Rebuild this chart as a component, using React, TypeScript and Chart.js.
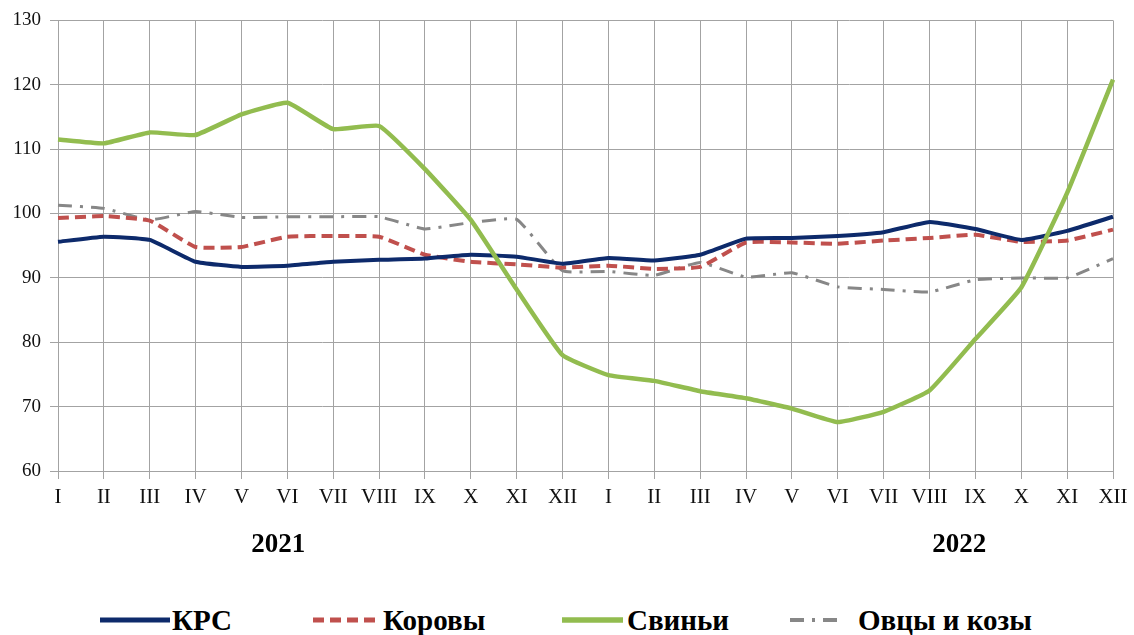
import React, { useEffect, useRef } from "react";
import { Chart, registerables } from "chart.js";

Chart.register(...registerables);

const MONTHS = ["I", "II", "III", "IV", "V", "VI", "VII", "VIII", "IX", "X", "XI", "XII"];
const LABELS = [...MONTHS, ...MONTHS];
const YEARS = ["2021", "2022"];

const KRS = [95.6, 96.4, 95.9, 92.5, 91.7, 91.9, 92.5, 92.8, 93.0, 93.6, 93.3, 92.2,
  93.1, 92.7, 93.6, 96.1, 96.2, 96.5, 97.1, 98.7, 97.6, 95.9, 97.3, 99.5];
const COWS = [99.3, 99.6, 98.9, 94.8, 94.8, 96.4, 96.5, 96.4, 93.6, 92.5, 92.1, 91.6,
  91.9, 91.4, 91.7, 95.5, 95.5, 95.3, 95.8, 96.2, 96.7, 95.6, 95.8, 97.5];
const PIGS = [111.5, 110.9, 112.6, 112.2, 115.4, 117.2, 113.1, 113.6, 106.9, 99.0, 88.2, 78.0,
  74.9, 74.0, 72.4, 71.3, 69.7, 67.6, 69.2, 72.5, 80.5, 88.5, 103.2, 120.8];
const SHEEP = [101.3, 100.8, 99.0, 100.3, 99.4, 99.5, 99.5, 99.5, 97.6, 98.6, 99.1, 91.1,
  91.0, 90.4, 92.4, 90.1, 90.8, 88.6, 88.2, 87.8, 89.7, 90.0, 90.0, 93.0];

const SERIES_NAMES = ["КРС", "Коровы", "Свиньи", "Овцы и козы"];
const COLORS = ["#0d2a6b", "#c0504d", "#92bc4f", "#878787"];
const DASHES: number[][] = [[], [11, 6], [], [14, 8, 3, 8]];
const WIDTHS = [4, 4, 4.5, 3];

const FONT = "'Liberation Serif', 'Times New Roman', serif";

const yearPlugin = {
  id: "yearLabels",
  afterDraw(chart: any) {
    const ctx = chart.ctx;
    const xs = chart.scales.x;
    const pos = [4.8, 19.65];
    ctx.save();
    ctx.font = `bold 27px ${FONT}`;
    ctx.fillStyle = "#000";
    ctx.textAlign = "center";
    ctx.textBaseline = "middle";
    YEARS.forEach((y, i) => {
      ctx.fillText(y, xs.getPixelForValue(pos[i]), 545);
    });
    ctx.restore();
  },
};

function LegendLine({ color, dash, width, len }: { color: string; dash: number[]; width: number; len: number }) {
  return (
    <svg width={len} height={10} style={{ display: "block" }}>
      <line x1={0} y1={5} x2={len} y2={5} stroke={color} strokeWidth={width}
        strokeDasharray={dash.length ? dash.join(" ") : undefined} />
    </svg>
  );
}

export default function App() {
  const ref = useRef<HTMLCanvasElement | null>(null);

  useEffect(() => {
    document.body.style.margin = "0";
    const data = [KRS, COWS, PIGS, SHEEP];
    const orders = [1, 2, 0, 3];
    const chart = new Chart(ref.current as HTMLCanvasElement, {
      type: "line",
      data: {
        labels: LABELS,
        datasets: data.map((d, i) => ({
          label: SERIES_NAMES[i],
          data: d,
          borderColor: COLORS[i],
          backgroundColor: COLORS[i],
          borderWidth: WIDTHS[i],
          borderDash: DASHES[i],
          pointRadius: 0,
          tension: 0.12,
          fill: false,
          order: orders[i],
        })),
      },
      options: {
        animation: false,
        responsive: false,
        maintainAspectRatio: false,
        layout: { padding: { top: 19, right: 21, left: 0, bottom: 0 } },
        plugins: { legend: { display: false }, tooltip: { enabled: false } },
        scales: {
          x: {
            offset: false,
            grid: { color: "#a3a3a3", lineWidth: 1, tickLength: 8, tickColor: "#a3a3a3" },
            border: { color: "#a3a3a3" },
            ticks: { color: "#111", font: { family: FONT, size: 21 }, padding: 6, maxRotation: 0, autoSkip: false },
            afterFit: (s: any) => { s.height = 104; },
          },
          y: {
            min: 60,
            max: 130,
            grid: { color: "#a3a3a3", lineWidth: 1, tickLength: 8, tickColor: "#a3a3a3" },
            border: { color: "#a3a3a3" },
            ticks: { stepSize: 10, color: "#111", font: { family: FONT, size: 19 }, padding: 9 },
            afterFit: (s: any) => { s.width = 58; },
          },
        },
      },
      plugins: [yearPlugin],
    });
    return () => chart.destroy();
  }, []);

  const legendItems = [
    { lineLeft: 100, len: 70, textLeft: 172 },
    { lineLeft: 313, len: 67, textLeft: 383 },
    { lineLeft: 562, len: 61, textLeft: 627 },
    { lineLeft: 790, len: 50, textLeft: 858 },
  ];

  return (
    <div style={{ position: "relative", width: 1134, height: 635, background: "#fff" }}>
      <canvas ref={ref} width={1134} height={575} style={{ display: "block" }} />
      {legendItems.map((it, i) => (
        <React.Fragment key={i}>
          <div style={{ position: "absolute", left: it.lineLeft, top: 615 }}>
            <LegendLine color={COLORS[i]} dash={DASHES[i]} width={WIDTHS[i] + 1} len={it.len} />
          </div>
          <div style={{ position: "absolute", left: it.textLeft, top: 603, fontFamily: FONT, fontWeight: "bold", fontSize: 29, lineHeight: "34px", color: "#000", whiteSpace: "nowrap" }}>
            {SERIES_NAMES[i]}
          </div>
        </React.Fragment>
      ))}
    </div>
  );
}
